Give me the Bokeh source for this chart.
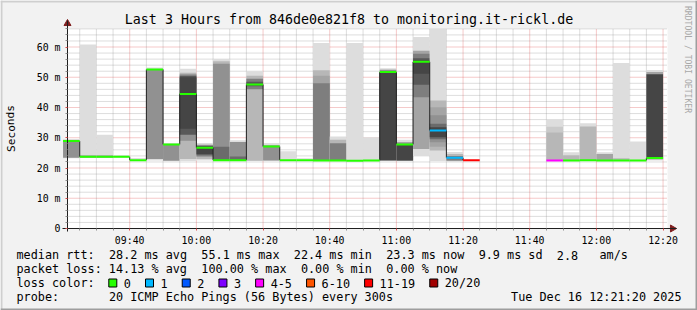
import re
from bokeh.plotting import figure
from bokeh.models import Range1d, FixedTicker, ColumnDataSource
from bokeh.core.properties import value
from bokeh.embed import file_html
from bokeh.resources import INLINE

# ---------------- data ----------------
title_text = "Last 3 Hours from 846de0e821f8 to monitoring.it-rickl.de"
y_axis_title = "Seconds"
watermark = "RRDTOOL / TOBI OETIKER"
window_start = "09:21:20"
window_end = "12:21:20"
step_minutes = 5

bin_end = ["09:25", "09:30", "09:35", "09:40", "09:45", "09:50", "09:55", "10:00",
           "10:05", "10:10", "10:15", "10:20", "10:25", "10:30", "10:35", "10:40",
           "10:45", "10:50", "10:55", "11:00", "11:05", "11:10", "11:15", "11:20",
           "11:25", "11:30", "11:35", "11:40", "11:45", "11:50", "11:55", "12:00",
           "12:05", "12:10", "12:15", "12:20"]
# median rtt per 5-minute bin, in ms (None = no answer)
median_ms = [28.9, 23.7, 23.7, 23.7, 22.6, 52.6, 27.8, 44.5, 26.7, 22.6, 22.6, 47.6,
             27.1, 22.6, 22.6, 22.5, 22.5, 22.4, 22.5, 51.7, 27.8, 55.1, 32.4, 23.4,
             22.6, None, None, None, None, 22.5, 22.5, 22.6, 22.5, 22.5, 22.5, 23.3]
# lost pings out of 20 per bin
loss_pings = [0, 0, 0, 0, 0, 0, 0, 0, 0, 0, 0, 0,
              0, 0, 0, 0, 0, 0, 0, 0, 0, 0, 1, 1,
              15, 20, 20, 20, 20, 5, 0, 0, 0, 0, 0, 0]
# smoke bands: bin index, band rank (1 = outermost pair of pings), low, high (ms)
smoke_bin = [0, 0, 1, 1, 2, 2, 3, 4, 5, 5, 6, 6, 7, 7, 7, 7, 7, 8, 8, 8, 8,
             9, 9, 9, 9, 10, 10, 10, 11, 11, 11, 11, 12, 12, 13, 14,
             15, 15, 15, 15, 16, 16, 16, 17, 18, 19, 19, 19, 20, 20, 20,
             21, 21, 21, 21, 21, 22, 22, 22, 22, 22, 22, 23, 23, 23,
             29, 29, 29, 30, 30, 31, 31, 32, 32, 33, 33, 34, 35, 35, 35]
smoke_rank = [1, 5, 1, 4, 1, 4, 1, 1, 1, 5, 1, 5, 1, 3, 5, 8, 9, 1, 3, 6, 9,
              1, 3, 5, 7, 1, 5, 7, 1, 3, 6, 8, 1, 5, 1, 1,
              1, 3, 4, 6, 1, 3, 6, 1, 1, 1, 5, 9, 1, 5, 9,
              1, 4, 6, 8, 9, 1, 3, 4, 5, 7, 9, 1, 3, 6,
              1, 2, 3, 1, 3, 1, 3, 1, 4, 1, 3, 1, 1, 4, 9]
smoke_lo = [23.2, 23.4, 23.3, 23.4, 23.3, 23.4, 23.4, 22.3, 22.5, 23.0, 22.2, 22.4,
            22.3, 23.0, 29.0, 31.0, 33.0, 22.5, 23.0, 23.8, 24.5,
            22.3, 22.5, 22.6, 22.6, 22.3, 22.5, 22.5, 22.3, 22.4, 46.0, 47.0,
            22.3, 22.5, 22.3, 22.3,
            22.3, 22.4, 22.4, 22.4, 22.3, 22.4, 22.4, 22.3, 22.3,
            22.3, 22.4, 22.6, 22.3, 22.4, 22.5,
            24.0, 26.3, 43.4, 47.5, 51.2, 22.3, 25.8, 27.0, 28.5, 29.5, 30.2,
            22.1, 22.3, 22.5,
            22.3, 22.4, 22.5, 22.3, 22.4, 22.3, 22.4, 22.3, 22.4, 22.3, 22.3, 22.3,
            22.5, 22.8, 23.0]
smoke_hi = [29.6, 29.0, 60.8, 24.2, 31.0, 24.2, 24.3, 23.3, 53.2, 52.5, 28.3, 27.8,
            52.8, 51.5, 51.0, 50.5, 50.0, 28.3, 27.8, 27.5, 27.2,
            56.0, 55.3, 54.5, 27.0, 29.2, 28.6, 23.8, 52.0, 50.5, 49.5, 48.5,
            28.2, 27.5, 25.5, 23.2,
            61.3, 52.3, 50.5, 48.0, 30.4, 29.3, 28.2, 61.3, 30.2,
            53.0, 52.5, 51.5, 29.3, 28.5, 27.8,
            63.3, 58.8, 57.8, 56.3, 55.5, 66.0, 42.3, 40.1, 37.4, 34.6, 33.5,
            25.3, 24.6, 24.0,
            36.0, 33.6, 31.7, 25.2, 24.2, 34.8, 33.7, 25.2, 24.6, 54.7, 23.2, 28.8,
            52.4, 51.7, 51.0]

y_ticks = [0, 10, 20, 30, 40, 50, 60]
y_tick_labels = ["0", "10 m", "20 m", "30 m", "40 m", "50 m", "60 m"]
x_tick_labels = ["09:40", "10:00", "10:20", "10:40", "11:00", "11:20", "11:40",
                 "12:00", "12:20"]

loss_labels = ["0", "1", "2", "3", "4-5", "6-10", "11-19", "20/20"]
loss_upper = [0, 1, 2, 3, 5, 10, 19, 20]
loss_colors = ["#26ff00", "#00b8ff", "#0059ff", "#7e00ff", "#ff00ff", "#ff5500",
               "#ff0000", "#a10000"]

stats_rtt = "median rtt:  28.2 ms avg  55.1 ms max  22.4 ms min  23.3 ms now  9.9 ms sd  2.8   am/s"
stats_loss = "packet loss: 14.13 % avg  100.00 % max  0.00 % min  0.00 % now"
loss_caption = "loss color:"
probe_text = "probe:       20 ICMP Echo Pings (56 Bytes) every 300s"
date_text = "Tue Dec 16 12:21:20 2025"

assert len(smoke_bin) == len(smoke_rank) == len(smoke_lo) == len(smoke_hi)
assert len(bin_end) == len(median_ms) == len(loss_pings)

# ---------------- helpers ----------------
def hm(s):
    parts = [int(v) for v in s.split(":")]
    return parts[0] * 60 + parts[1] + (parts[2] / 60.0 if len(parts) > 2 else 0.0)

ends = [hm(s) for s in bin_end]
T0, T1 = hm(window_start), hm(window_end)

def gray(rank):
    c = int(190 / 10 * (10 - rank)) + 50
    return "#%02x%02x%02x" % (c, c, c)

def loss_color(n):
    for up, col in zip(loss_upper, loss_colors):
        if n <= up:
            return col
    return loss_colors[-1]

FONT = "DejaVu Sans Mono"
W, H = 697, 310
PL, PR, PT, PB = 67, 667, 28, 228      # rrdtool plot area (canvas px)
YMAX = 66.12                           # ms at top of plot area
XS = (T1 - T0) / (PR - PL)             # minutes per pixel
YS = YMAX / (PB - PT)                  # ms per pixel

def xm(px):   # canvas x pixel -> minutes
    return T0 + (px - PL) * XS

def ym(py):   # canvas y pixel -> ms
    return (PB - py) * YS

# ---------------- figure (frame = whole canvas) ----------------
p = figure(width=W, height=H, output_backend="svg", toolbar_location=None,
           x_range=Range1d(xm(0), xm(W)), y_range=Range1d(ym(H), ym(0)),
           min_border_left=0, min_border_right=0, min_border_top=0, min_border_bottom=0,
           background_fill_color="#f2f2f2", border_fill_color="#f2f2f2",
           outline_line_color=None)
p.xgrid.visible = False
p.ygrid.visible = False

# plot canvas
p.quad(left=[T0], right=[T1], bottom=[0], top=[YMAX], fill_color="#ffffff", line_color=None)

# grid
x_major = [hm(s) for s in x_tick_labels]
x_minor = []
t = ends[0]
while t <= T1:
    if all(abs(t - m) > 1e-6 for m in x_major):
        x_minor.append(t)
    t += step_minutes
y_minor = [v for v in range(2, int(YMAX) + 1, 2) if v % 10 != 0]
y_major = [v for v in y_ticks if v > 0]

p.segment(x0=x_minor, y0=[0] * len(x_minor), x1=x_minor, y1=[YMAX] * len(x_minor),
          line_color="#8f8f8f", line_alpha=0.6, line_width=1, line_dash="1 1")
p.segment(x0=[T0] * len(y_minor), y0=y_minor, x1=[T1] * len(y_minor), y1=y_minor,
          line_color="#8f8f8f", line_alpha=0.6, line_width=1, line_dash="1 1")
p.segment(x0=x_major, y0=[0] * len(x_major), x1=x_major, y1=[YMAX] * len(x_major),
          line_color="#de4f4f", line_alpha=0.6, line_width=1, line_dash="1 1")
p.segment(x0=[T0] * len(y_major), y0=y_major, x1=[T1] * len(y_major), y1=y_major,
          line_color="#de4f4f", line_alpha=0.6, line_width=1, line_dash="1 1")

# axes fixed at the plot area edges
xt = FixedTicker(ticks=x_major, minor_ticks=x_minor)
yt = FixedTicker(ticks=y_ticks, minor_ticks=y_minor)
p.xaxis.ticker = xt
p.yaxis.ticker = yt
p.xaxis.fixed_location = 0
p.yaxis.fixed_location = T0
p.xaxis.bounds = (xm(62), xm(676))
p.yaxis.bounds = (ym(231), ym(20))
p.xaxis.major_label_overrides = {m: lab for m, lab in zip(x_major, x_tick_labels)}
p.yaxis.major_label_overrides = {v: lab for v, lab in zip(y_ticks, y_tick_labels)}
for ax in (p.xaxis, p.yaxis):
    ax.axis_line_color = "#1f1f1f"
    ax.major_tick_in = 0
    ax.major_tick_out = 2
    ax.minor_tick_in = 0
    ax.minor_tick_out = 2
    ax.major_tick_line_color = "#de4f4f"
    ax.minor_tick_line_color = "#8f8f8f"
    ax.major_label_text_font = FONT
    ax.major_label_text_font_size = "9.9px"
    ax.major_label_text_color = "#000000"
p.xaxis.major_label_standoff = 4
p.yaxis.major_label_standoff = 5

# smoke
smoke = ColumnDataSource(dict(
    left=[ends[b] - step_minutes for b in smoke_bin],
    right=[ends[b] for b in smoke_bin],
    bottom=smoke_lo, top=smoke_hi,
    color=[gray(r) for r in smoke_rank]))
p.quad(left="left", right="right", bottom="bottom", top="top",
       fill_color="color", line_color=None, source=smoke)

# median step connectors
sx0, sy0, sy1 = [], [], []
for i in range(1, len(median_ms)):
    a, b = median_ms[i - 1], median_ms[i]
    if a is not None and b is not None and a != b:
        sx0.append(ends[i - 1]); sy0.append(a); sy1.append(b)
p.segment(x0=sx0, y0=sy0, x1=sx0, y1=sy1, line_color="#202020", line_width=1)

# median coloured by loss (2 px thick)
sw = YS
valid = [i for i, m in enumerate(median_ms) if m is not None]
med = ColumnDataSource(dict(
    left=[ends[i] - step_minutes for i in valid],
    right=[ends[i] for i in valid],
    bottom=[median_ms[i] - sw for i in valid],
    top=[median_ms[i] + sw for i in valid],
    color=[loss_color(loss_pings[i]) for i in valid]))
p.quad(left="left", right="right", bottom="bottom", top="top",
       fill_color="color", line_color=None, source=med)

# axis arrow heads
p.scatter(x=[xm(PL), xm(672)], y=[ym(23), 0], marker="triangle", size=7,
          angle=[0, -1.5708], fill_color="#801f1f", line_color="#801f1f")

# texts
def texts(xs, ys, ts, size, align="left", angle=0.0, color="#000000"):
    p.text(x=[xm(v) for v in xs], y=[ym(v) for v in ys], text=ts,
           text_font=value(FONT), text_font_size=value(size), text_align=align,
           text_baseline="middle", angle=angle, text_color=color)

texts([348.5], [19], [title_text], "13.3px", align="center")
texts([10.5], [128], [y_axis_title], "11.1px", align="center", angle=1.5708)
texts([687.5], [59], [watermark], "8.1px", align="center", angle=-1.5708, color="#a8a8a8")

CW = 7.11  # legend character width (px)
def mono_line(x, y, line):
    xs, ts = [], []
    for m in re.finditer(r"\S+(?: \S+)*", line):
        xs.append(x + m.start() * CW)
        ts.append(m.group(0))
    texts(xs, [y] * len(xs), ts, "11.8px")

mono_line(16, 254.5, stats_rtt)
mono_line(16, 268.5, stats_loss)
mono_line(16, 282.5, loss_caption)
mono_line(16, 296.5, probe_text)
texts([681], [296.5], [date_text], "11.8px", align="right")

bx = 108.3
box_l, box_r, lab_x = [], [], []
for lab in loss_labels:
    box_l.append(xm(bx)); box_r.append(xm(bx + 8)); lab_x.append(bx + 15)
    bx = bx + 15 + len(lab) * CW + 14.6
p.quad(left=box_l, right=box_r, bottom=[ym(286.5)] * len(box_l), top=[ym(278.5)] * len(box_l),
       fill_color=loss_colors, line_color="#000000", line_width=1)
texts(lab_x, [282.5] * len(lab_x), loss_labels, "11.8px")

# canvas edge shading
p.quad(left=[xm(0), xm(0), xm(0), xm(W - 2)], right=[xm(W), xm(2), xm(W), xm(W)],
       bottom=[ym(2), ym(H), ym(H), ym(H)], top=[ym(0), ym(0), ym(H - 2), ym(0)],
       fill_color=["#cfcfcf", "#cfcfcf", "#9e9e9e", "#9e9e9e"], line_color=None)

open("out.html", "w").write(file_html(p, INLINE))
